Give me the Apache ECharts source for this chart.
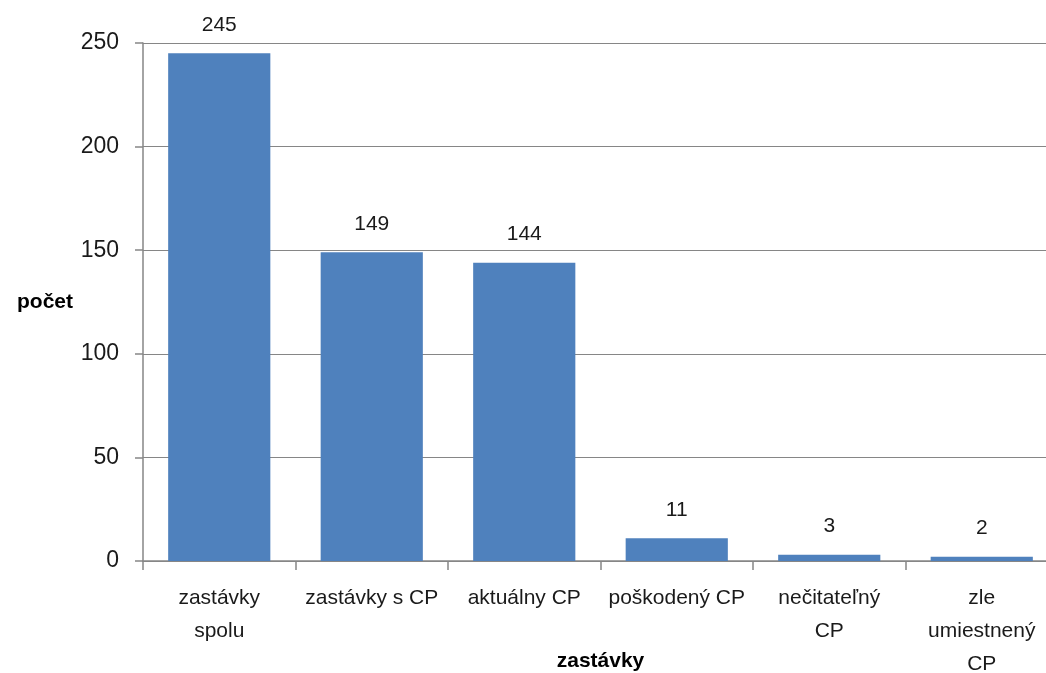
<!DOCTYPE html>
<html>
<head>
<meta charset="utf-8">
<script src="https://cdn.jsdelivr.net/npm/echarts@6/dist/echarts.min.js"></script>
<style>
  html, body { margin: 0; padding: 0; background: #fff; }
  #chart { width: 1046px; height: 673px; }
</style>
</head>
<body>
<div id="chart"></div>
<script>
  // kategórie a hodnoty
  var categories = ['zastávky\nspolu', 'zastávky s CP', 'aktuálny CP', 'poškodený CP', 'nečitateľný\nCP', 'zle\numiestnený\nCP'];
  var values = [245, 149, 144, 11, 3, 2];

  var font = 'Liberation Sans';
  var myChart = echarts.init(document.getElementById('chart'));
  myChart.setOption({
    animation: false,
    textStyle: { fontFamily: font },
    grid: { left: 143, right: -12, top: 43, bottom: 112, containLabel: false, outerBoundsMode: 'none' },
    xAxis: {
      type: 'category',
      data: categories,
      name: 'zastávky',
      nameLocation: 'middle',
      nameGap: 90,
      nameMoveOverlap: false,
      nameTextStyle: { fontWeight: 'bold', fontSize: 21, color: '#000', fontFamily: font },
      axisLine: { lineStyle: { color: '#868686', width: 1.5 } },
      axisTick: { show: true, length: 9, lineStyle: { color: '#868686', width: 1.5 } },
      axisLabel: { fontSize: 21, color: '#1a1a1a', margin: 21, lineHeight: 33, interval: 0 }
    },
    yAxis: {
      type: 'value',
      min: 0,
      max: 250,
      interval: 50,
      name: 'počet',
      nameLocation: 'middle',
      nameRotate: 0,
      nameGap: 70,
      nameTextStyle: { fontWeight: 'bold', fontSize: 21, color: '#000', fontFamily: font },
      axisLine: { show: true, lineStyle: { color: '#868686', width: 1.5 } },
      axisTick: { show: true, length: 8, lineStyle: { color: '#868686', width: 1.5 } },
      axisLabel: { fontSize: 23, color: '#1a1a1a', margin: 24 },
      splitLine: { lineStyle: { color: '#868686', width: 1 } }
    },
    series: [{
      type: 'bar',
      data: values,
      barCategoryGap: '33%',
      itemStyle: { color: '#4F81BD' },
      label: { show: true, position: 'top', distance: 18, fontSize: 21, color: '#1a1a1a' }
    }]
  });
</script>
</body>
</html>
